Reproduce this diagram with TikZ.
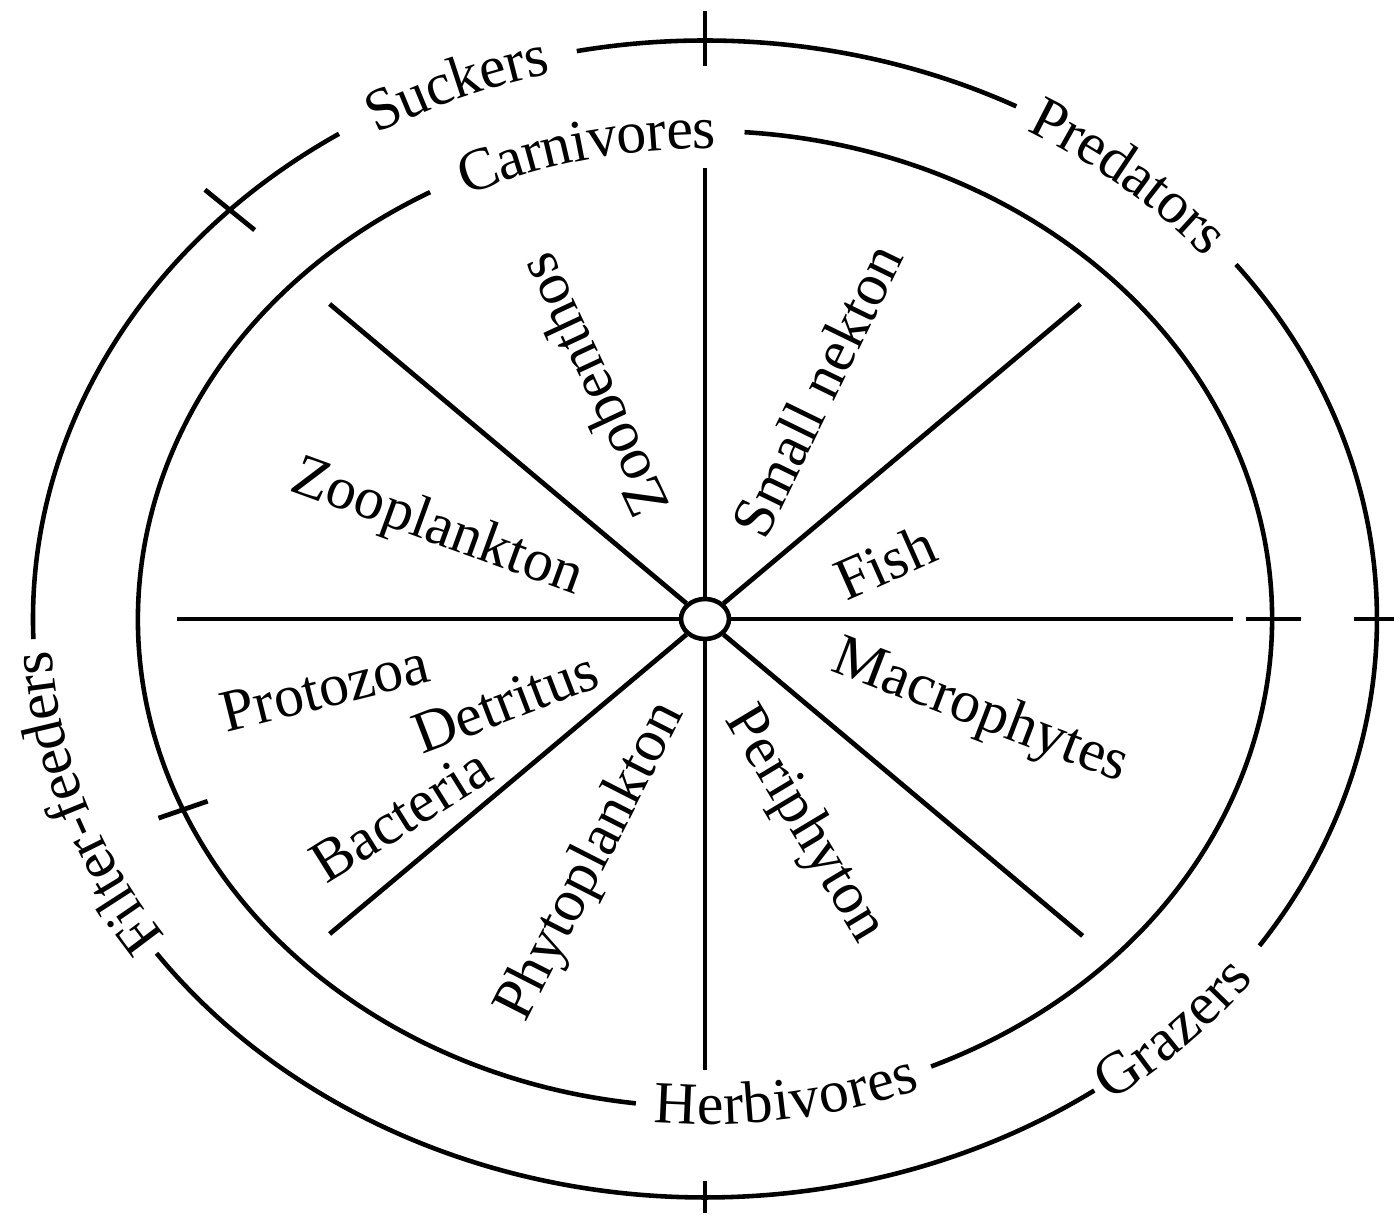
\documentclass[tikz,border=0pt]{standalone}
\usepackage{fontspec}
\setmainfont{Liberation Serif}
\usepackage{tikz}
\usetikzlibrary{shapes.geometric,decorations.text}
\newcommand{\rimfont}{\fontsize{17}{20}\selectfont}

\begin{document}
\begin{tikzpicture}[line width=1.3pt]
    \tikzstyle{spoke} = [line width=1.35pt]
    \tikzstyle{lab} = [font=\rimfont, inner sep=0pt]
    \tikzstyle{tickmark} = [line width=1.35pt]
    \tikzstyle{rimtext} = [decorate, decoration={text along path, text align=center, raise=-5pt}]
    \def\ox{6.72} \def\oy{5.785}
    \def\ix{5.67} \def\iy{4.88}

    \useasboundingbox (-7.05,-5.97) rectangle (6.89,6.19);

    % hub and spokes
    \node [draw, ellipse, fill=white, inner sep=0pt, minimum width=0.48cm, minimum height=0.40cm] (hub) {};
    \foreach \ang/\len in {0/5.28, 40/4.9, 90/4.51, 140/4.9, 180/5.28, 220/4.9, 270/4.51, 320/4.93} {
        \coordinate (s\ang) at (\ang:\len);
        \draw [spoke] (hub) -- (s\ang);
    }

    % inner ring
    \draw (119:\ix cm and \iy cm) arc[start angle=119, end angle=263, x radius=\ix, y radius=\iy];
    \draw (293.5:\ix cm and \iy cm) arc[start angle=293.5, end angle=446, x radius=\ix, y radius=\iy];

    % outer ring
    \draw (62.4:\ox cm and \oy cm) arc[start angle=62.4, end angle=101, x radius=\ox, y radius=\oy];
    \draw (123:\ox cm and \oy cm) arc[start angle=123, end angle=182, x radius=\ox, y radius=\oy];
    \draw (215.3:\ox cm and \oy cm) arc[start angle=215.3, end angle=305.4, x radius=\ox, y radius=\oy];
    \draw (325.6:\ox cm and \oy cm) arc[start angle=325.6, end angle=397.8, x radius=\ox, y radius=\oy];

    % ticks
    \coordinate (tN) at (90:\ox cm and \oy cm);
    \coordinate (tS) at (270:\ox cm and \oy cm);
    \coordinate (tNW) at (135:\ox cm and \oy cm);
    \coordinate (tSW) at (203:\ix cm and \iy cm);
    \coordinate (tE) at (0:\ix cm and \iy cm);
    \coordinate (tEE) at (0:\ox cm and \oy cm);
    \draw [tickmark] (tN) ++(0,0.29) -- ++(0,-0.55);
    \draw [tickmark] (tS) ++(0,0.16) -- ++(0,-0.32);
    \draw [tickmark] (tNW) ++(141:0.32) -- ++(-39:0.64);
    \draw [tickmark] (tSW) ++(199:0.26) -- ++(19:0.52);
    \draw [tickmark] (tE) ++(-0.26,0) -- ++(0.55,0);
    \draw [tickmark] (tEE) ++(-0.23,0) -- ++(0.5,0);

    % sector labels
    \node [lab, rotate=115] (zoob) at (-1.13,2.33) {Zoobenthos};
    \node [lab, rotate=64] (nekton) at (1.12,2.29) {Small nekton};
    \node [lab, rotate=-20] (zoopl) at (-2.68,0.90) {Zooplankton};
    \node [lab, rotate=24] (fish) at (1.80,0.57) {Fish};
    \node [lab, rotate=-21] (macro) at (2.75,-0.94) {Macrophytes};
    \node [lab, rotate=14] (proto) at (-3.80,-0.69) {Protozoa};
    \node [lab, rotate=21] (detr) at (-2.00,-0.83) {Detritus};
    \node [lab, rotate=32] (bact) at (-3.04,-1.96) {Bacteria};
    \node [lab, rotate=63] (phyto) at (-1.13,-2.43) {Phytoplankton};
    \node [lab, rotate=-59] (peri) at (0.99,-2.06) {Periphyton};

    % ring labels
    \path [rimtext, decoration={text={|\rimfont|Carnivores}}] (130:\ix cm and \iy cm) arc[start angle=130, end angle=75, x radius=\ix, y radius=\iy];
    \path [rimtext, decoration={text={|\rimfont|Herbivores}}] (-110:\ix cm and \iy cm) arc[start angle=-110, end angle=-53, x radius=\ix, y radius=\iy];
    \path [rimtext, decoration={text={|\rimfont|Suckers}}] (130:\ox cm and \oy cm) arc[start angle=130, end angle=94, x radius=\ox, y radius=\oy];
    \path [rimtext, decoration={text={|\rimfont|Predators}}] (72:\ox cm and \oy cm) arc[start angle=72, end angle=28, x radius=\ox, y radius=\oy];
    \path [rimtext, decoration={text={|\rimfont|Grazers}}] (-67:\ox cm and \oy cm) arc[start angle=-67, end angle=-23, x radius=\ox, y radius=\oy];
    \path [rimtext, decoration={text={|\rimfont|Filter-feeders}}] (226:\ox cm and \oy cm) arc[start angle=226, end angle=171, x radius=\ox, y radius=\oy];
\end{tikzpicture}
\end{document}
